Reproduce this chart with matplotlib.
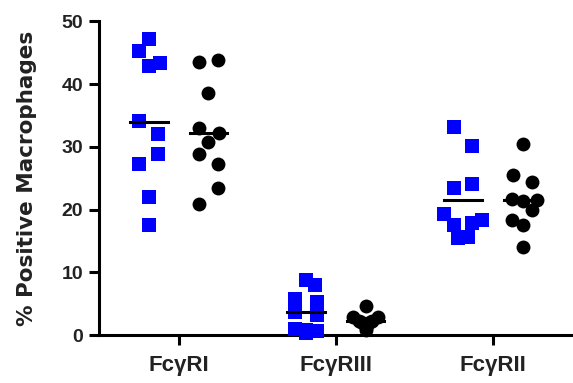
import numpy as np
import matplotlib.pyplot as plt

plt.rcParams['font.family'] = ['Liberation Sans', 'DejaVu Sans']
plt.rcParams['font.weight'] = 'bold'

groups = ['Fc\u03b3RI', 'Fc\u03b3RIII', 'Fc\u03b3RII']

# % positive macrophages, blue squares (first column of each group)
blue_vals = [
    [47.1, 45.2, 42.9, 43.3, 34.1, 32.1, 28.8, 27.2, 22.0, 17.5],
    [8.8, 7.9, 5.7, 5.3, 3.6, 3.2, 1.0, 0.8, 0.4, 0.6],
    [33.2, 30.1, 23.5, 24.0, 19.3, 17.5, 17.8, 18.3, 15.4, 15.7],
]
# black circles (second column of each group)
black_vals = [
    [43.5, 43.9, 38.5, 33.0, 32.2, 30.8, 28.8, 27.2, 23.4, 20.9],
    [4.7, 2.9, 2.9, 2.3, 2.3, 1.6, 1.1, 2.0, 2.0, 0.8],
    [30.5, 25.5, 24.4, 21.7, 21.3, 21.5, 19.9, 18.3, 17.5, 14.1],
]

# horizontal scatter of points inside each column (axis units)
blue_jitter = [
    [0.0, -0.06, 0.0, 0.07, -0.06, 0.06, 0.06, -0.06, 0.0, 0.0],
    [0.0, 0.06, -0.07, 0.07, -0.07, 0.07, -0.07, 0.0, 0.0, 0.07],
    [-0.06, 0.06, -0.06, 0.06, -0.12, -0.06, 0.06, 0.12, -0.03, 0.03],
]
black_jitter = [
    [-0.06, 0.06, 0.0, -0.06, 0.07, 0.0, -0.06, 0.06, 0.06, -0.06],
    [0.0, -0.08, 0.08, -0.04, 0.04, 0.0, 0.0, -0.03, 0.03, 0.0],
    [0.0, -0.06, 0.06, -0.07, 0.0, 0.09, 0.06, -0.07, 0.0, 0.0],
]

fig = plt.figure(figsize=(5.73, 3.83), dpi=100)
ax = fig.add_axes([0.1728, 0.1253, 0.826, 0.8191])

off = 0.19
half = 0.12
for i in range(len(groups)):
    bx = i - off + np.array(blue_jitter[i])
    kx = i + off + np.array(black_jitter[i])
    ax.plot(bx, blue_vals[i], 's', color='#0000ff', markersize=10,
            markeredgewidth=0, clip_on=False, zorder=3)
    ax.plot(kx, black_vals[i], 'o', color='black', markersize=10,
            markeredgewidth=0, clip_on=False, zorder=3)
    ax.plot([i - off - half, i - off + half], [np.mean(blue_vals[i])] * 2,
            color='black', lw=2.2, zorder=4)
    ax.plot([i + off - half, i + off + half], [np.mean(black_vals[i])] * 2,
            color='black', lw=2.2, zorder=4)

ax.set_xlim(-0.506, 2.506)
ax.set_ylim(0, 50)
ax.set_yticks([0, 10, 20, 30, 40, 50])
ax.set_xticks(range(len(groups)))
ax.set_xticklabels(groups, fontsize=16, color='#222222')
for lbl in ax.get_yticklabels():
    lbl.set_fontsize(14)
    lbl.set_color('#222222')

fig.text(27 / 573, 0.535, '% Positive Macrophages', rotation=90,
         ha='center', va='center', fontsize=15.5, fontweight='bold',
         family='DejaVu Sans', color='#222222')

for s in ['top', 'right']:
    ax.spines[s].set_visible(False)
for s in ['left', 'bottom']:
    ax.spines[s].set_linewidth(2.2)
ax.tick_params(width=2.2, length=7.5, direction='out')
ax.tick_params(axis='x', pad=7)
ax.tick_params(axis='y', pad=4)

fig.savefig('out.png', dpi=100)
